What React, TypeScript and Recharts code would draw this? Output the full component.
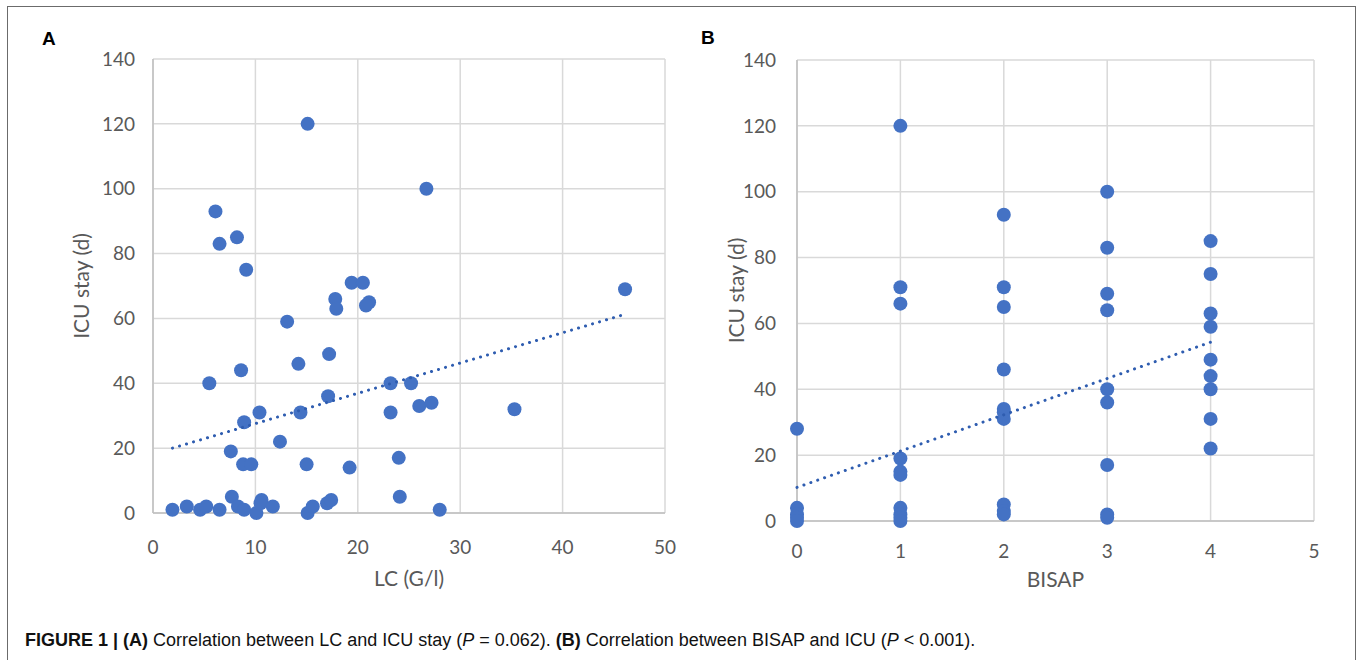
import React from "react";
import {
  ScatterChart,
  Scatter,
  XAxis,
  YAxis,
  CartesianGrid,
  Label,
} from "recharts";

// Panel A: leukocyte count vs ICU stay
const lcX = [
  15.1, 6.1, 8.2, 6.5, 9.1, 19.4, 20.5, 26.7, 46.1, 17.8, 17.9, 21.1, 20.8, 13.1,
  17.2, 14.2, 8.6, 5.5, 17.1, 10.4, 14.4, 8.9, 12.4, 7.6, 8.8, 9.6, 15.0, 19.2,
  23.2, 25.2, 23.2, 26.0, 27.2, 24.0, 24.1, 28.0, 35.3, 1.9, 3.3, 4.6, 5.2, 6.5,
  7.7, 8.3, 8.9, 10.1, 10.6, 10.5, 11.7, 15.1, 15.6, 17.0, 17.4,
];
const lcStay = [
  120, 93, 85, 83, 75, 71, 71, 100, 69, 66, 63, 65, 64, 59, 49, 46, 44, 40, 36, 31,
  31, 28, 22, 19, 15, 15, 15, 14, 40, 40, 31, 33, 34, 17, 5, 1, 32, 1, 2, 1, 2, 1,
  5, 2, 1, 0, 4, 3, 2, 0, 2, 3, 4,
];
const lcTrendX = [1.9, 45.8];
const lcTrendY = [20, 61];

// Panel B: BISAP score vs ICU stay
const bisapX = [
  0, 0, 0, 0, 0,
  1, 1, 1, 1, 1, 1, 1, 1, 1, 1,
  2, 2, 2, 2, 2, 2, 2, 2, 2, 2,
  3, 3, 3, 3, 3, 3, 3, 3, 3,
  4, 4, 4, 4, 4, 4, 4, 4, 4,
];
const bisapStay = [
  28, 4, 2, 1, 0,
  120, 71, 66, 19, 15, 14, 4, 2, 1, 0,
  93, 71, 65, 46, 34, 33, 31, 5, 3, 2,
  100, 83, 69, 64, 40, 36, 17, 2, 1,
  85, 75, 63, 59, 49, 44, 40, 31, 22,
];
const bisapTrendX = [0, 4];
const bisapTrendY = [10.2, 54.3];

const lcTicks = [0, 10, 20, 30, 40, 50];
const bisapTicks = [0, 1, 2, 3, 4, 5];
const stayTicks = [0, 20, 40, 60, 80, 100, 120, 140];

const zip = (xs: number[], ys: number[]) => xs.map((x, i) => ({ x, y: ys[i] }));

const DOT = "#4472C4";
const TREND = "#2F5DB0";
const GRID = "#d9d9d9";
const TICK = { fill: "#595959", fontSize: 19, fontFamily: "Lato, 'Open Sans', sans-serif" };
const TITLE_FONT = "Lato, 'Open Sans', sans-serif";

const dot = (p: any) => <circle cx={p.cx} cy={p.cy} r={7} fill={DOT} />;
const noDot = () => <g />;

type PanelProps = {
  points: { x: number; y: number }[];
  trend: { x: number; y: number }[];
  xTicks: number[];
  xTitle: string;
  left: number;
  width: number;
  marginRight: number;
  top: number;
  yAxisWidth: number;
  plotBottom: number;
  xTickMargin: number;
  yTickMargin: number;
  yTitleX: number;
  xTitleY: number;
};

function Panel(p: PanelProps) {
  const height = 600;
  const xAxisHeight = height - p.plotBottom - 7;
  return (
    <div style={{ position: "absolute", left: p.left, top: 0 }}>
      <ScatterChart
        width={p.width}
        height={height}
        margin={{ top: p.top, right: p.marginRight, bottom: 7, left: 0 }}
      >
        <CartesianGrid stroke={GRID} strokeWidth={1.5} />
        <XAxis
          type="number"
          dataKey="x"
          domain={[p.xTicks[0], p.xTicks[p.xTicks.length - 1]]}
          ticks={p.xTicks}
          interval={0}
          tickLine={false}
          tickSize={0}
          tickMargin={p.xTickMargin}
          height={xAxisHeight}
          axisLine={{ stroke: "#bfbfbf", strokeWidth: 1.5 }}
          tick={TICK}
        >
          <Label
            content={(lp: any) => {
              const vb = lp.viewBox;
              return (
                <text
                  x={vb.x + vb.width / 2}
                  y={vb.y + p.xTitleY}
                  textAnchor="middle"
                  dominantBaseline="central"
                  fill="#595959"
                  fontSize={21}
                  fontFamily={TITLE_FONT}
                >
                  {p.xTitle}
                </text>
              );
            }}
          />
        </XAxis>
        <YAxis
          type="number"
          dataKey="y"
          domain={[0, 140]}
          ticks={stayTicks}
          interval={0}
          tickLine={false}
          tickSize={0}
          tickMargin={p.yTickMargin}
          width={p.yAxisWidth}
          axisLine={{ stroke: "#bfbfbf", strokeWidth: 1.5 }}
          tick={TICK}
        >
          <Label
            content={(lp: any) => {
              const vb = lp.viewBox;
              const cx = vb.x + p.yTitleX;
              const cy = vb.y + vb.height / 2;
              return (
                <text
                  x={cx}
                  y={cy}
                  transform={`rotate(-90 ${cx} ${cy})`}
                  textAnchor="middle"
                  dominantBaseline="central"
                  fill="#595959"
                  fontSize={21}
                  fontFamily={TITLE_FONT}
                >
                  ICU stay (d)
                </text>
              );
            }}
          />
        </YAxis>
        <Scatter data={p.points} shape={dot} isAnimationActive={false} />
        <Scatter
          data={p.trend}
          shape={noDot}
          line={{
            stroke: TREND,
            strokeWidth: 3,
            strokeDasharray: "0.1 7.2",
            strokeLinecap: "round",
          }}
          isAnimationActive={false}
        />
      </ScatterChart>
    </div>
  );
}

export default function App() {
  const captionFont = "'Liberation Sans', Arial, sans-serif";
  return (
    <div
      style={{
        position: "absolute",
        left: 0,
        top: 0,
        width: 1358,
        height: 660,
        overflow: "hidden",
        background: "#fff",
      }}
    >
      <div
        style={{
          position: "absolute",
          left: 7,
          top: 6,
          width: 1347,
          height: 720,
          border: "1px solid #6b6b6b",
        }}
      />
      <Panel
        points={zip(lcX, lcStay)}
        trend={zip(lcTrendX, lcTrendY)}
        xTicks={lcTicks}
        xTitle="LC (G/l)"
        left={0}
        width={700}
        marginRight={35}
        top={59}
        yAxisWidth={153}
        plotBottom={513}
        xTickMargin={28}
        yTickMargin={18}
        yTitleX={80}
        xTitleY={64}
      />
      <Panel
        points={zip(bisapX, bisapStay)}
        trend={zip(bisapTrendX, bisapTrendY)}
        xTicks={bisapTicks}
        xTitle="BISAP"
        left={660}
        width={698}
        marginRight={44}
        top={60}
        yAxisWidth={137}
        plotBottom={521}
        xTickMargin={24}
        yTickMargin={21}
        yTitleX={75}
        xTitleY={57}
      />
      <div
        style={{
          position: "absolute",
          left: 42,
          top: 29,
          fontFamily: "'Liberation Sans', Arial, sans-serif",
          fontWeight: "bold",
          fontSize: 19,
          lineHeight: "20px",
        }}
      >
        A
      </div>
      <div
        style={{
          position: "absolute",
          left: 701,
          top: 28,
          fontFamily: "'Liberation Sans', Arial, sans-serif",
          fontWeight: "bold",
          fontSize: 19,
          lineHeight: "20px",
        }}
      >
        B
      </div>
      <div
        style={{
          position: "absolute",
          left: 25,
          top: 630,
          fontFamily: captionFont,
          fontSize: 18,
          lineHeight: "20px",
          color: "#111",
          whiteSpace: "nowrap",
        }}
      >
        <b>FIGURE 1 | (A)</b> Correlation between LC and ICU stay (<i>P</i> = 0.062).{" "}
        <b>(B)</b> Correlation between BISAP and ICU (<i>P</i> &lt; 0.001).
      </div>
    </div>
  );
}
